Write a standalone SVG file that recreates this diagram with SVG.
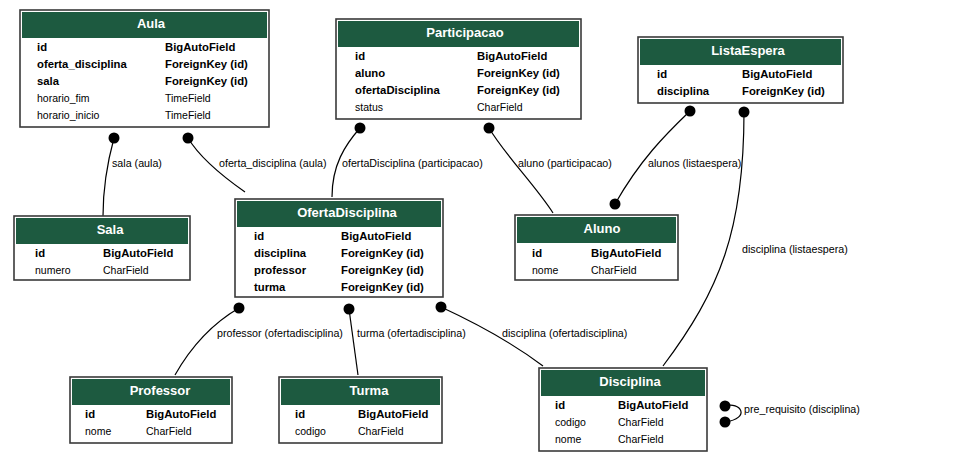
<svg xmlns="http://www.w3.org/2000/svg" width="958" height="463" viewBox="0 0 958 463">
<style>
.box{fill:#fff;stroke:#3a3a3a;stroke-width:1.6}
.hdr{fill:#1d5a40}
.ttl{font-family:"Liberation Sans",Arial,sans-serif;font-size:13px;font-weight:bold;fill:#fff;text-anchor:middle}
.b{font-family:"Liberation Sans",Arial,sans-serif;font-size:11.3px;font-weight:bold;fill:#000}
.r{font-family:"Liberation Sans",Arial,sans-serif;font-size:10.5px;fill:#000}
.lbl{font-family:"Liberation Sans",Arial,sans-serif;font-size:10.7px;fill:#000}
.edge{fill:none;stroke:#000;stroke-width:1.2}
.dot{fill:#000}
</style>
<rect width="958" height="463" fill="#fff"/>

<g id="edges">
<path class="edge" d="M114,138 C108,160 103,190 103,216"/>
<circle class="dot" cx="114" cy="138" r="5.5"/>
<text class="lbl" x="112" y="167">sala (aula)</text>

<path class="edge" d="M188,138 C200,158 225,178 245,192"/>
<circle class="dot" cx="188" cy="138" r="5.5"/>
<text class="lbl" x="219" y="167">oferta_disciplina (aula)</text>

<path class="edge" d="M360,128 C345,145 332,165 332,197"/>
<circle class="dot" cx="360" cy="128" r="5.5"/>
<text class="lbl" x="342" y="167">ofertaDisciplina (participacao)</text>

<path class="edge" d="M489,128 C505,155 535,185 553,213"/>
<circle class="dot" cx="489" cy="128" r="5.5"/>
<text class="lbl" x="518" y="167">aluno (participacao)</text>

<path class="edge" d="M690,111 C665,135 640,160 615,204"/>
<circle class="dot" cx="690" cy="111" r="5.5"/>
<circle class="dot" cx="615" cy="204" r="5.5"/>
<text class="lbl" x="648" y="167">alunos (listaespera)</text>

<path class="edge" d="M744,112 C744,230 720,290 663,366"/>
<circle class="dot" cx="744" cy="112" r="5.5"/>
<text class="lbl" x="742" y="253">disciplina (listaespera)</text>

<path class="edge" d="M239,308 C215,322 192,345 175,375"/>
<circle class="dot" cx="239" cy="308" r="5.5"/>
<text class="lbl" x="217" y="337">professor (ofertadisciplina)</text>

<path class="edge" d="M349,309 L358,375"/>
<circle class="dot" cx="349" cy="309" r="5.5"/>
<text class="lbl" x="357" y="337">turma (ofertadisciplina)</text>

<path class="edge" d="M441,307 C480,325 515,345 543,366"/>
<circle class="dot" cx="441" cy="307" r="5.5"/>
<text class="lbl" x="502" y="337">disciplina (ofertadisciplina)</text>

<path class="edge" d="M725,406 C740,401 752,418 725,422"/>
<circle class="dot" cx="725" cy="406" r="5.5"/>
<circle class="dot" cx="725" cy="422" r="5.5"/>
<text class="lbl" x="744" y="413">pre_requisito (disciplina)</text>
</g>

<g id="Aula">
<rect class="box" x="20" y="10" width="249" height="117"/>
<rect class="hdr" x="22" y="12" width="245" height="26"/>
<text class="ttl" x="151" y="28">Aula</text>
<text class="b" x="37" y="50.5">id</text><text class="b" x="165" y="50.5">BigAutoField</text>
<text class="b" x="37" y="67.5">oferta_disciplina</text><text class="b" x="165" y="67.5">ForeignKey (id)</text>
<text class="b" x="37" y="84.5">sala</text><text class="b" x="165" y="84.5">ForeignKey (id)</text>
<text class="r" x="37" y="101.5">horario_fim</text><text class="r" x="165" y="101.5">TimeField</text>
<text class="r" x="37" y="118.5">horario_inicio</text><text class="r" x="165" y="118.5">TimeField</text>
</g>

<g id="Participacao">
<rect class="box" x="336" y="19" width="245" height="100"/>
<rect class="hdr" x="338" y="21" width="241" height="26"/>
<text class="ttl" x="465" y="37">Participacao</text>
<text class="b" x="355" y="59.5">id</text><text class="b" x="477" y="59.5">BigAutoField</text>
<text class="b" x="355" y="76.5">aluno</text><text class="b" x="477" y="76.5">ForeignKey (id)</text>
<text class="b" x="355" y="93.5">ofertaDisciplina</text><text class="b" x="477" y="93.5">ForeignKey (id)</text>
<text class="r" x="355" y="110.5">status</text><text class="r" x="477" y="110.5">CharField</text>
</g>

<g id="ListaEspera">
<rect class="box" x="638" y="37" width="205" height="66"/>
<rect class="hdr" x="640" y="39" width="201" height="26"/>
<text class="ttl" x="748" y="55">ListaEspera</text>
<text class="b" x="657" y="77.5">id</text><text class="b" x="742" y="77.5">BigAutoField</text>
<text class="b" x="657" y="94.5">disciplina</text><text class="b" x="742" y="94.5">ForeignKey (id)</text>
</g>

<g id="Sala">
<rect class="box" x="14" y="216" width="176" height="64"/>
<rect class="hdr" x="16" y="218" width="172" height="26"/>
<text class="ttl" x="110" y="234">Sala</text>
<text class="b" x="35" y="256.5">id</text><text class="b" x="103" y="256.5">BigAutoField</text>
<text class="r" x="35" y="273.5">numero</text><text class="r" x="103" y="273.5">CharField</text>
</g>

<g id="OfertaDisciplina">
<rect class="box" x="235" y="199" width="208" height="98"/>
<rect class="hdr" x="237" y="201" width="204" height="26"/>
<text class="ttl" x="347" y="217">OfertaDisciplina</text>
<text class="b" x="254" y="239.5">id</text><text class="b" x="341" y="239.5">BigAutoField</text>
<text class="b" x="254" y="256.5">disciplina</text><text class="b" x="341" y="256.5">ForeignKey (id)</text>
<text class="b" x="254" y="273.5">professor</text><text class="b" x="341" y="273.5">ForeignKey (id)</text>
<text class="b" x="254" y="290.5">turma</text><text class="b" x="341" y="290.5">ForeignKey (id)</text>
</g>

<g id="Aluno">
<rect class="box" x="515" y="215" width="163" height="65"/>
<rect class="hdr" x="517" y="217" width="159" height="26"/>
<text class="ttl" x="602" y="233">Aluno</text>
<text class="b" x="532" y="256.5">id</text><text class="b" x="591" y="256.5">BigAutoField</text>
<text class="r" x="532" y="273.5">nome</text><text class="r" x="591" y="273.5">CharField</text>
</g>

<g id="Professor">
<rect class="box" x="70" y="377" width="162" height="66"/>
<rect class="hdr" x="72" y="379" width="158" height="26"/>
<text class="ttl" x="160" y="395">Professor</text>
<text class="b" x="85" y="417.5">id</text><text class="b" x="146" y="417.5">BigAutoField</text>
<text class="r" x="85" y="434.5">nome</text><text class="r" x="146" y="434.5">CharField</text>
</g>

<g id="Turma">
<rect class="box" x="279" y="377" width="163" height="66"/>
<rect class="hdr" x="281" y="379" width="159" height="26"/>
<text class="ttl" x="369" y="395">Turma</text>
<text class="b" x="295" y="417.5">id</text><text class="b" x="358" y="417.5">BigAutoField</text>
<text class="r" x="295" y="434.5">codigo</text><text class="r" x="358" y="434.5">CharField</text>
</g>

<g id="Disciplina">
<rect class="box" x="539" y="368" width="168" height="83"/>
<rect class="hdr" x="541" y="370" width="164" height="26"/>
<text class="ttl" x="630" y="386">Disciplina</text>
<text class="b" x="555" y="408.5">id</text><text class="b" x="618" y="408.5">BigAutoField</text>
<text class="r" x="555" y="425.5">codigo</text><text class="r" x="618" y="425.5">CharField</text>
<text class="r" x="555" y="442.5">nome</text><text class="r" x="618" y="442.5">CharField</text>
</g>
</svg>
